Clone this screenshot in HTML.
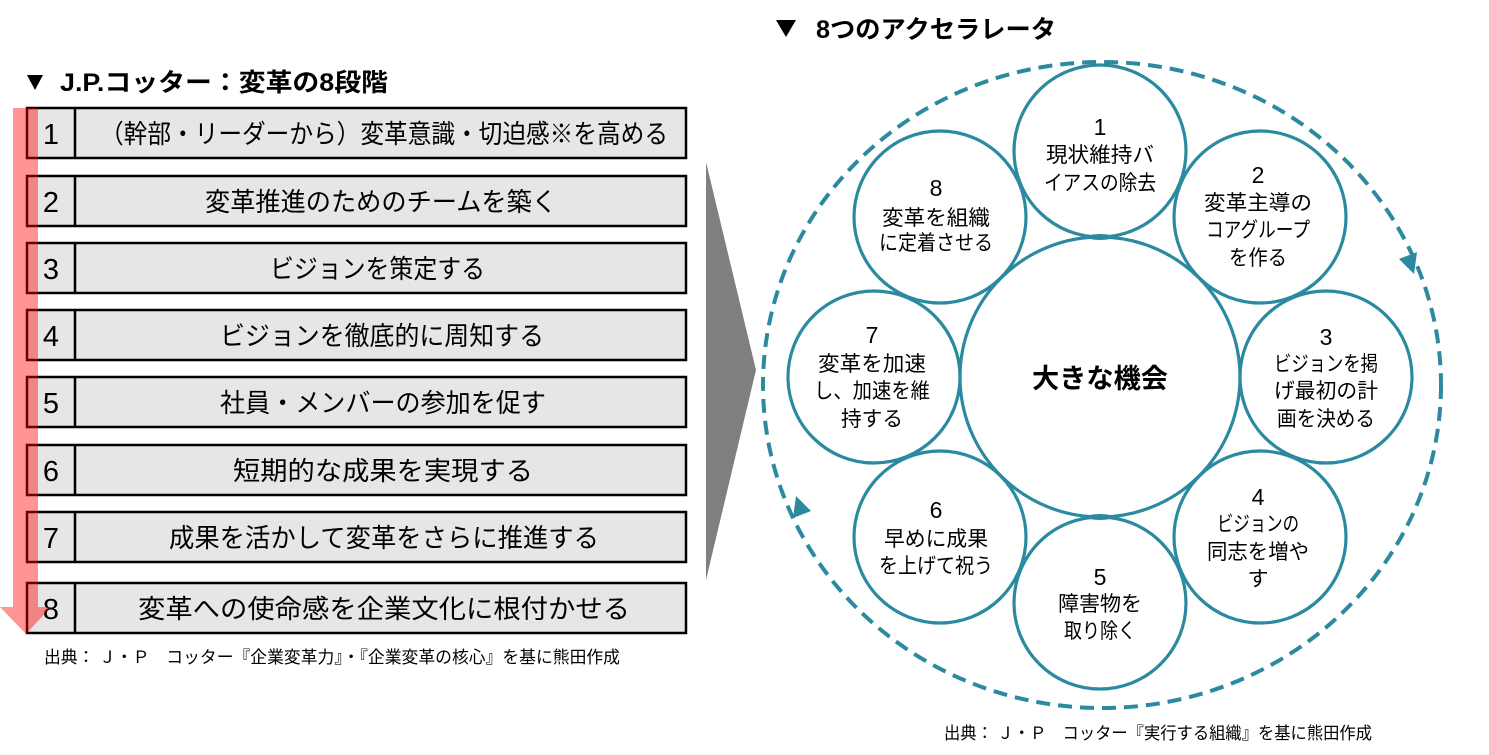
<!DOCTYPE html>
<html><head><meta charset="utf-8">
<style>
html,body{margin:0;padding:0;background:#fff;}
svg{display:block;}
text{font-family:"Liberation Sans","Noto Sans CJK JP",sans-serif;}
</style></head>
<body>
<svg width="1489" height="755" viewBox="0 0 1489 755" xmlns="http://www.w3.org/2000/svg">
<rect width="1489" height="755" fill="#fff"/>

<!-- Left title -->
<polygon points="27,75 43,75 35,90" fill="#000"/>
<text x="60" y="91" font-size="25" font-weight="bold" textLength="328" lengthAdjust="spacingAndGlyphs">J.P.コッター：変革の8段階</text>

<!-- Right title -->
<polygon points="776,20 796,20 786,37" fill="#000"/>
<text x="816" y="38" font-size="25" font-weight="bold" textLength="240" lengthAdjust="spacingAndGlyphs">8つのアクセラレータ</text>

<!-- Rows -->
<g stroke="#000" stroke-width="2.5" fill="#e6e6e6">
<rect x="27" y="108" width="659" height="50"/><line x1="75" y1="108" x2="75" y2="158"/>
<rect x="27" y="176" width="659" height="50"/><line x1="75" y1="176" x2="75" y2="226"/>
<rect x="27" y="243" width="659" height="50"/><line x1="75" y1="243" x2="75" y2="293"/>
<rect x="27" y="310" width="659" height="50"/><line x1="75" y1="310" x2="75" y2="360"/>
<rect x="27" y="377" width="659" height="50"/><line x1="75" y1="377" x2="75" y2="427"/>
<rect x="27" y="445" width="659" height="50"/><line x1="75" y1="445" x2="75" y2="495"/>
<rect x="27" y="512" width="659" height="50"/><line x1="75" y1="512" x2="75" y2="562"/>
<rect x="27" y="583" width="659" height="50"/><line x1="75" y1="583" x2="75" y2="633"/>
</g>
<g font-size="29" text-anchor="middle" fill="#000">
<text x="51" y="144">1</text>
<text x="51" y="212">2</text>
<text x="51" y="279">3</text>
<text x="51" y="346">4</text>
<text x="51" y="413">5</text>
<text x="51" y="481">6</text>
<text x="51" y="548">7</text>
<text x="51" y="619">8</text>
</g>
<g font-size="26" fill="#000">
<text x="100" y="143" textLength="568" lengthAdjust="spacingAndGlyphs">（幹部・リーダーから）変革意識・切迫感※を高める</text>
<text x="205" y="211" textLength="352" lengthAdjust="spacingAndGlyphs">変革推進のためのチームを築く</text>
<text x="270" y="278" textLength="215" lengthAdjust="spacingAndGlyphs">ビジョンを策定する</text>
<text x="220" y="345" textLength="324" lengthAdjust="spacingAndGlyphs">ビジョンを徹底的に周知する</text>
<text x="220" y="412" textLength="326" lengthAdjust="spacingAndGlyphs">社員・メンバーの参加を促す</text>
<text x="233" y="480" textLength="300" lengthAdjust="spacingAndGlyphs">短期的な成果を実現する</text>
<text x="169" y="547" textLength="430" lengthAdjust="spacingAndGlyphs">成果を活かして変革をさらに推進する</text>
<text x="138" y="618" textLength="492" lengthAdjust="spacingAndGlyphs">変革への使命感を企業文化に根付かせる</text>
</g>

<!-- Red arrow -->
<path d="M13,108 H38 V607 H51 L26,634 L0,607 H13 Z" fill="#ff0000" fill-opacity="0.42"/>

<!-- Footer left -->
<text x="44" y="663" font-size="17" fill="#000" textLength="576" lengthAdjust="spacingAndGlyphs">出典： Ｊ・Ｐ　コッター『企業変革力』・『企業変革の核心』を基に熊田作成</text>

<!-- Gray triangle -->
<polygon points="706,162 756,370 706,580" fill="#7f7f7f"/>

<!-- Dashed outer ring -->
<ellipse cx="1102" cy="385" rx="339" ry="323" fill="none" stroke="#2b8a9f" stroke-width="4" stroke-dasharray="14 8"/>
<polygon points="1414,274 1417,252 1399,259" fill="#2b8a9f"/>
<polygon points="796,496 811,511 793,518" fill="#2b8a9f"/>

<!-- Circles -->
<g fill="#fff" stroke="#2b8a9f" stroke-width="3.2">
<circle cx="1100" cy="377" r="140"/>
<circle cx="1100" cy="151" r="86"/>
<circle cx="1260" cy="217" r="86"/>
<circle cx="1326" cy="377" r="86"/>
<circle cx="1260" cy="537" r="86"/>
<circle cx="1100" cy="603" r="86"/>
<circle cx="940" cy="537" r="86"/>
<circle cx="874" cy="377" r="86"/>
<circle cx="940" cy="217" r="86"/>
</g>
<ellipse cx="1100" cy="237" rx="13" ry="3" fill="#2b8a9f"/>
<ellipse cx="1100" cy="517" rx="13" ry="3" fill="#2b8a9f"/>

<text x="1100" y="388" font-size="27" font-weight="bold" text-anchor="middle" textLength="136" lengthAdjust="spacingAndGlyphs">大きな機会</text>

<g font-size="21" text-anchor="middle" fill="#000">
<!-- 1 -->
<text x="1100" y="135" font-size="23">1</text>
<text x="1100" y="162" textLength="108" lengthAdjust="spacingAndGlyphs">現状維持バ</text>
<text x="1100" y="190" textLength="112" lengthAdjust="spacingAndGlyphs">イアスの除去</text>
<!-- 2 -->
<text x="1258" y="183" font-size="23">2</text>
<text x="1258" y="210" textLength="108" lengthAdjust="spacingAndGlyphs">変革主導の</text>
<text x="1258" y="237" textLength="104" lengthAdjust="spacingAndGlyphs">コアグループ</text>
<text x="1258" y="265" textLength="58" lengthAdjust="spacingAndGlyphs">を作る</text>
<!-- 3 -->
<text x="1326" y="345" font-size="23">3</text>
<text x="1326" y="371" textLength="104" lengthAdjust="spacingAndGlyphs">ビジョンを掲</text>
<text x="1326" y="398" textLength="104" lengthAdjust="spacingAndGlyphs">げ最初の計</text>
<text x="1326" y="426" textLength="98" lengthAdjust="spacingAndGlyphs">画を決める</text>
<!-- 4 -->
<text x="1258" y="505" font-size="23">4</text>
<text x="1258" y="531" textLength="82" lengthAdjust="spacingAndGlyphs">ビジョンの</text>
<text x="1258" y="559" textLength="102" lengthAdjust="spacingAndGlyphs">同志を増や</text>
<text x="1258" y="586">す</text>
<!-- 5 -->
<text x="1100" y="585" font-size="23">5</text>
<text x="1100" y="611" textLength="84" lengthAdjust="spacingAndGlyphs">障害物を</text>
<text x="1100" y="638" textLength="72" lengthAdjust="spacingAndGlyphs">取り除く</text>
<!-- 6 -->
<text x="936" y="518" font-size="23">6</text>
<text x="936" y="546" textLength="104" lengthAdjust="spacingAndGlyphs">早めに成果</text>
<text x="936" y="573" textLength="114" lengthAdjust="spacingAndGlyphs">を上げて祝う</text>
<!-- 7 -->
<text x="872" y="343" font-size="23">7</text>
<text x="872" y="371" textLength="108" lengthAdjust="spacingAndGlyphs">変革を加速</text>
<text x="872" y="398" textLength="116" lengthAdjust="spacingAndGlyphs">し、加速を維</text>
<text x="872" y="426" textLength="62" lengthAdjust="spacingAndGlyphs">持する</text>
<!-- 8 -->
<text x="936" y="196" font-size="23">8</text>
<text x="936" y="225" textLength="108" lengthAdjust="spacingAndGlyphs">変革を組織</text>
<text x="936" y="250" textLength="114" lengthAdjust="spacingAndGlyphs">に定着させる</text>
</g>

<!-- Footer right -->
<text x="944" y="739" font-size="17" fill="#000" textLength="428" lengthAdjust="spacingAndGlyphs">出典： Ｊ・Ｐ　コッター『実行する組織』を基に熊田作成</text>
</svg>
</body></html>
